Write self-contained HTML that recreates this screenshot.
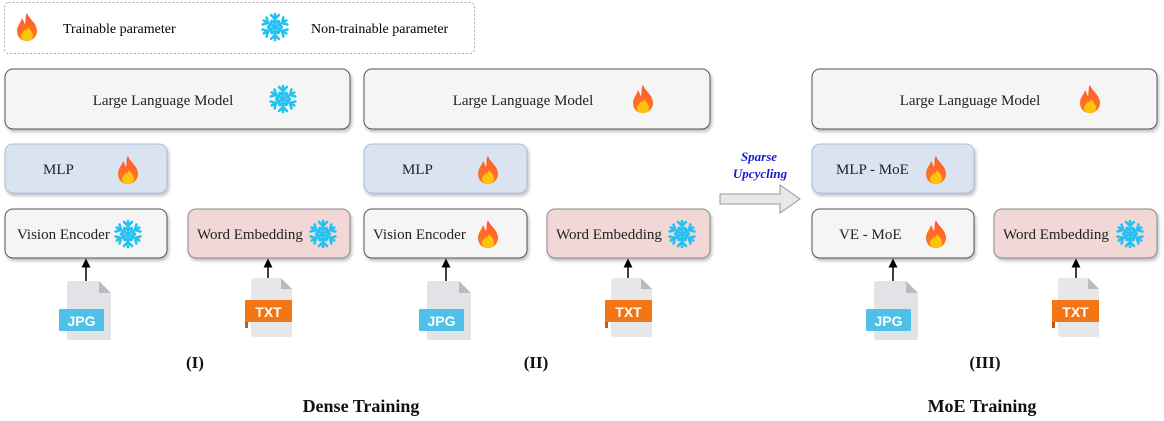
<!DOCTYPE html>
<html><head><meta charset="utf-8"><style>
html,body{margin:0;padding:0;background:#fff;}
svg{display:block;}
text{font-family:"Liberation Serif",serif;}
text.sans{font-family:"Liberation Sans",sans-serif;}
</style></head><body>
<svg width="1164" height="421" viewBox="0 0 1164 421" xmlns="http://www.w3.org/2000/svg">
<defs>
<linearGradient id="fg" x1="0" y1="0" x2="0" y2="1"><stop offset="0" stop-color="#ff5a36"/><stop offset="1" stop-color="#ff7a1a"/></linearGradient>
<g id="fire">
<path d="M0,-14 C2,-8 10,-4 10,4 C10,10 5,14 0,14 C-6,14 -10,10 -10,4 C-10,-2 -6,-4 -5,-9 C-3,-6 -3,-4 -2,-3 C-1,-7 -2,-11 0,-14 Z" fill="url(#fg)"/>
<path d="M1,0 C3,3 6,5 6,9 C6,12 3,14 0,14 C-3,14 -6,12 -6,9 C-6,6 -3,5 -2,2 C-1,4 0,4 1,0 Z" fill="#ffc20e"/>
</g>
<g id="snow" stroke="#22c2f2" stroke-width="2.6" stroke-linecap="round" fill="none">
<g id="arm"><line x1="0" y1="0" x2="0" y2="-13"/><polyline points="-4,-12 0,-8 4,-12"/><polyline points="-3,-6 0,-4 3,-6"/></g>
<use href="#arm" transform="rotate(60)"/><use href="#arm" transform="rotate(120)"/><use href="#arm" transform="rotate(180)"/><use href="#arm" transform="rotate(240)"/><use href="#arm" transform="rotate(300)"/>
</g>
<g id="jpg">
<path d="M3,0 H32 L44,12 V57 Q44,59 42,59 H3 Q0,59 0,57 V3 Q0,0 3,0 Z" fill="#e1e3e6"/>
<path d="M32,0 V12 H44 Z" fill="#b8bcc2"/>
<rect x="-8" y="28" width="45" height="22" rx="1" fill="#4fc0e8"/>
<text class="sans" x="14.5" y="45" text-anchor="middle" font-weight="bold" font-size="14" fill="#fff">JPG</text>
</g>
<g id="txt">
<path d="M9,0 H36 L47,11 V57 Q47,59 45,59 H11 Q6,59 6,55 V3 Q6,0 9,0 Z" fill="#e6e7e9"/>
<path d="M36,0 V11 H47 Z" fill="#b8bcc2"/>
<rect x="0" y="22" width="3" height="28" fill="#c45a0a"/>
<rect x="0" y="22" width="47" height="22" fill="#f57514"/>
<text class="sans" x="23.5" y="39" text-anchor="middle" font-weight="bold" font-size="14" fill="#fff">TXT</text>
</g>
<filter id="sh" x="-5%" y="-10%" width="112%" height="130%"><feDropShadow dx="1.5" dy="2.5" stdDeviation="1.5" flood-color="#000" flood-opacity="0.25"/></filter>
<marker id="ah" markerWidth="6" markerHeight="6" refX="3" refY="3" orient="auto"><path d="M0,0 L6,3 L0,6 Z" fill="#000"/></marker>
</defs>

<!-- legend -->
<rect x="4.5" y="2.5" width="470" height="51" rx="4" fill="#fff" stroke="#aaa" stroke-dasharray="2,2"/>
<use href="#fire" x="27" y="27"/>
<text x="63" y="33" font-size="14">Trainable parameter</text>
<use href="#snow" x="275" y="27"/>
<text x="311" y="33" font-size="14">Non-trainable parameter</text>

<g font-size="15" fill="#222">
<!-- Column I -->
<rect x="5" y="69" width="345" height="60" rx="8" fill="#f5f5f5" stroke="#555" filter="url(#sh)"/>
<text x="163" y="105" text-anchor="middle">Large Language Model</text>
<use href="#snow" x="283" y="99"/>
<rect x="5" y="144" width="162" height="49" rx="8" fill="#dae3f0" stroke="#a9bfdc" filter="url(#sh)"/>
<text x="43" y="174">MLP</text>
<use href="#fire" x="128" y="170"/>
<rect x="5" y="209" width="162" height="49" rx="8" fill="#f5f5f5" stroke="#555" filter="url(#sh)"/>
<text x="17" y="239">Vision Encoder</text>
<use href="#snow" x="128" y="234"/>
<rect x="188" y="209" width="162" height="49" rx="8" fill="#f2d7d7" stroke="#888" filter="url(#sh)"/>
<text x="197" y="239">Word Embedding</text>
<use href="#snow" x="323" y="234"/>

<!-- Column II -->
<rect x="364" y="69" width="346" height="60" rx="8" fill="#f5f5f5" stroke="#555" filter="url(#sh)"/>
<text x="523" y="105" text-anchor="middle">Large Language Model</text>
<use href="#fire" x="643" y="99"/>
<rect x="364" y="144" width="163" height="49" rx="8" fill="#dae3f0" stroke="#a9bfdc" filter="url(#sh)"/>
<text x="402" y="174">MLP</text>
<use href="#fire" x="488" y="170"/>
<rect x="364" y="209" width="163" height="49" rx="8" fill="#f5f5f5" stroke="#555" filter="url(#sh)"/>
<text x="373" y="239">Vision Encoder</text>
<use href="#fire" x="488" y="234"/>
<rect x="547" y="209" width="163" height="49" rx="8" fill="#f2d7d7" stroke="#888" filter="url(#sh)"/>
<text x="556" y="239">Word Embedding</text>
<use href="#snow" x="682" y="234"/>

<!-- Column III -->
<rect x="812" y="69" width="345" height="60" rx="8" fill="#f5f5f5" stroke="#555" filter="url(#sh)"/>
<text x="970" y="105" text-anchor="middle">Large Language Model</text>
<use href="#fire" x="1090" y="99"/>
<rect x="812" y="144" width="162" height="49" rx="8" fill="#dae3f0" stroke="#a9bfdc" filter="url(#sh)"/>
<text x="836" y="174">MLP - MoE</text>
<use href="#fire" x="936" y="170"/>
<rect x="812" y="209" width="162" height="49" rx="8" fill="#f5f5f5" stroke="#555" filter="url(#sh)"/>
<text x="839" y="239">VE - MoE</text>
<use href="#fire" x="936" y="234"/>
<rect x="994" y="209" width="163" height="49" rx="8" fill="#f2d7d7" stroke="#888" filter="url(#sh)"/>
<text x="1003" y="239">Word Embedding</text>
<use href="#snow" x="1130" y="234"/>
</g>

<!-- input arrows -->
<g stroke="#000" stroke-width="1.5">
<line x1="86" y1="281" x2="86" y2="263" marker-end="url(#ah)"/>
<line x1="268" y1="278" x2="268" y2="263" marker-end="url(#ah)"/>
<line x1="446" y1="281" x2="446" y2="263" marker-end="url(#ah)"/>
<line x1="628" y1="278" x2="628" y2="263" marker-end="url(#ah)"/>
<line x1="893" y1="281" x2="893" y2="263" marker-end="url(#ah)"/>
<line x1="1076" y1="278" x2="1076" y2="263" marker-end="url(#ah)"/>
</g>

<use href="#jpg" x="67" y="281"/>
<use href="#txt" x="245" y="278"/>
<use href="#jpg" x="427" y="281"/>
<use href="#txt" x="605" y="278"/>
<use href="#jpg" x="874" y="281"/>
<use href="#txt" x="1052" y="278"/>

<!-- block arrow -->
<path d="M720,194 H780 V185 L800,199 L780,213 V204 H720 Z" fill="#e8e8e8" stroke="#999"/>
<text x="759" y="161" text-anchor="middle" font-size="13" font-weight="bold" font-style="italic" fill="#1a1ad0">Sparse</text>
<text x="760" y="178" text-anchor="middle" font-size="13" font-weight="bold" font-style="italic" fill="#1a1ad0">Upcycling</text>

<g font-weight="bold" text-anchor="middle" fill="#111">
<text x="195" y="368" font-size="17">(I)</text>
<text x="536" y="368" font-size="17">(II)</text>
<text x="985" y="368" font-size="17">(III)</text>
<text x="361" y="412" font-size="18">Dense Training</text>
<text x="982" y="412" font-size="18">MoE Training</text>
</g>
</svg>
</body></html>
